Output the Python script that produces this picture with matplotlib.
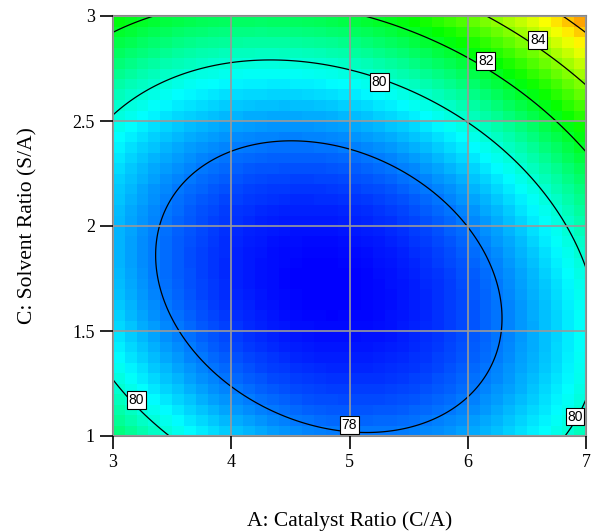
import numpy as np
import matplotlib
matplotlib.use("Agg")
import matplotlib.pyplot as plt
from matplotlib.colors import LinearSegmentedColormap

# Quadratic response model: Y = b0 + bA*A + bC*C + bAC*A*C + bAA*A^2 + bCC*C^2
model_terms = ["b0", "A", "C", "AC", "A2", "C2"]
model_coefs = [106.855, -7.74079, -13.54866, 0.63030, 0.69038, 3.07039]

a_range = [3.0, 7.0]
c_range = [1.0, 3.0]
a_ticks = [3, 4, 5, 6, 7]
c_ticks = [1, 1.5, 2, 2.5, 3]

contour_levels = [78, 80, 82, 84, 86]
labeled_levels = [78, 80, 82, 84]
label_spots = [(5.0, 1.052), (5.254, 2.686), (6.153, 2.786), (6.593, 2.886),
               (3.199, 1.171), (6.907, 1.092)]

color_limits = [76.6, 88.2]
ramp_colors = ["#0000ff", "#00ffff", "#00ff00", "#ffff00", "#ff0000"]


def response(A, C):
    b0, bA, bC, bAC, bAA, bCC = model_coefs
    return b0 + bA * A + bC * C + bAC * A * C + bAA * A ** 2 + bCC * C ** 2


plt.rcParams["font.family"] = ["Liberation Serif", "DejaVu Serif"]

fig = plt.figure(figsize=(5.91, 5.31), dpi=100)
ax = fig.add_axes([113 / 591, 95 / 531, 473 / 591, 420 / 531])

cmap = LinearSegmentedColormap.from_list("rainbow5", ramp_colors)

# coarse colour grid (cell centres)
n = 40
ea = np.linspace(a_range[0], a_range[1], n + 1)
ec = np.linspace(c_range[0], c_range[1], n + 1)
ca = 0.5 * (ea[:-1] + ea[1:])
cc = 0.5 * (ec[:-1] + ec[1:])
CA, CC = np.meshgrid(ca, cc)
ax.pcolormesh(ea, ec, response(CA, CC), cmap=cmap,
              vmin=color_limits[0], vmax=color_limits[1], shading="flat")

# smooth contour lines
fa = np.linspace(a_range[0], a_range[1], 400)
fc = np.linspace(c_range[0], c_range[1], 400)
FA, FC = np.meshgrid(fa, fc)
cs = ax.contour(FA, FC, response(FA, FC), levels=contour_levels,
                colors="black", linewidths=0.9)
labels = ax.clabel(cs, levels=labeled_levels, manual=label_spots,
                   inline=False, fmt="%d", fontsize=10)
for t, spot in zip(labels, label_spots):
    t.set_position(spot)
    t.set_family(["Liberation Sans", "DejaVu Sans"])
    t.set_bbox(dict(facecolor="white", edgecolor="black", linewidth=0.8,
                    boxstyle="square,pad=0.12"))
    t.set_rotation(0)

ax.set_xlim(a_range)
ax.set_ylim(c_range)
ax.set_xticks(a_ticks)
ax.set_yticks(c_ticks)
ax.set_xticklabels([f"{v:g}" for v in a_ticks])
ax.set_yticklabels([f"{v:g}" for v in c_ticks])
ax.grid(True, color="#999999", linewidth=1.2)
ax.set_axisbelow(False)
for s in ax.spines.values():
    s.set_color("#888888")
    s.set_linewidth(1.5)
ax.tick_params(direction="out", length=9.5, width=1.2, color="black",
               labelsize=13, pad=3.5)

ax.set_xlabel("A: Catalyst Ratio (C/A)", fontsize=15.5, labelpad=29)
ax.set_ylabel("C: Solvent Ratio (S/A)", fontsize=15.5, labelpad=25)

fig.savefig("out.png", dpi=100)
